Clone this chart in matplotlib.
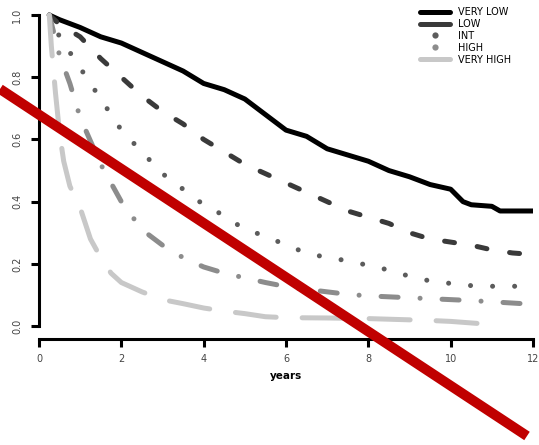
import matplotlib.pyplot as plt
from matplotlib.lines import Line2D

# survival estimates (years, proportion surviving)
t_vlow = [0.25, 0.5, 1, 1.5, 2, 2.5, 3, 3.5, 4, 4.5, 5, 5.5, 6, 6.5, 7, 7.5, 8, 8.5, 9, 9.5, 10, 10.3, 10.5, 11, 11.2, 12]
s_vlow = [1.0, 0.985, 0.96, 0.93, 0.91, 0.88, 0.85, 0.82, 0.78, 0.76, 0.73, 0.68, 0.63, 0.61, 0.57, 0.55, 0.53, 0.50, 0.48, 0.455, 0.44, 0.40, 0.39, 0.385, 0.37, 0.37]

t_low = [0.25, 0.5, 1, 1.5, 2, 2.5, 3, 3.5, 4, 4.5, 5, 5.5, 6, 6.5, 7, 7.5, 8, 8.5, 9, 9.5, 10, 10.5, 11, 11.5, 12]
s_low = [1.0, 0.97, 0.93, 0.86, 0.80, 0.74, 0.69, 0.65, 0.60, 0.56, 0.52, 0.49, 0.46, 0.43, 0.40, 0.37, 0.35, 0.33, 0.30, 0.28, 0.27, 0.26, 0.245, 0.235, 0.23]

t_int = [0.25, 0.5, 1, 1.5, 2, 2.5, 3, 3.5, 4, 4.5, 5, 5.5, 6, 6.5, 7, 7.5, 8, 8.5, 9, 9.5, 10, 10.5, 11, 11.6]
s_int = [1.0, 0.93, 0.83, 0.73, 0.63, 0.56, 0.49, 0.44, 0.39, 0.355, 0.31, 0.29, 0.26, 0.235, 0.22, 0.21, 0.195, 0.18, 0.16, 0.145, 0.137, 0.13, 0.128, 0.128]

t_high = [0.25, 0.5, 0.75, 1, 1.5, 2, 2.5, 3, 3.5, 4, 4.5, 5, 5.5, 6, 6.5, 7, 7.5, 8, 8.5, 9, 9.5, 10, 10.5, 11, 11.5, 12]
s_high = [1.0, 0.87, 0.78, 0.67, 0.52, 0.40, 0.31, 0.26, 0.22, 0.19, 0.17, 0.155, 0.14, 0.127, 0.118, 0.11, 0.102, 0.097, 0.094, 0.091, 0.088, 0.085, 0.082, 0.078, 0.074, 0.07]

t_vhigh = [0.25, 0.3, 0.4, 0.5, 0.6, 0.75, 1, 1.25, 1.5, 1.75, 2, 2.5, 3, 3.5, 4, 4.5, 5, 5.5, 6, 7, 8, 9, 9.5, 10, 10.5, 11, 11.2]
s_vhigh = [1.0, 0.9, 0.75, 0.62, 0.53, 0.45, 0.38, 0.28, 0.22, 0.17, 0.14, 0.11, 0.085, 0.072, 0.058, 0.048, 0.04, 0.03, 0.027, 0.026, 0.024, 0.02, 0.018, 0.015, 0.01, 0.005, 0.003]

labels = ["VERY LOW", "LOW", "INT", "HIGH", "VERY HIGH"]
x_ticks = [0, 2, 4, 6, 8, 10, 12]
y_ticks = [0.0, 0.2, 0.4, 0.6, 0.8, 1.0]

fig = plt.figure(figsize=(5.39, 4.45), dpi=100)
ax = fig.add_axes([39 / 539, 1 - 338.5 / 445, 494 / 539, 335.9 / 445])

lw = 3.6
ax.plot(t_vlow, s_vlow, color="black", lw=lw, solid_capstyle="round", solid_joinstyle="round")
ax.plot(t_low, s_low, color="#3a3a3a", lw=lw, dashes=(2.0, 4.6), dash_capstyle="round")
ax.plot(t_int, s_int, color="#5c5c5c", lw=lw, dashes=(0.01, 4.4), dash_capstyle="round")
ax.plot(t_high, s_high, color="#8c8c8c", lw=lw, dashes=(3.4, 4.4, 0.01, 4.4), dash_capstyle="round")
ax.plot(t_vhigh, s_vhigh, color="#c8c8c8", lw=lw, dashes=(8.2, 5.2), dash_capstyle="round")

ax.set_xlim(0, 12)
ax.set_ylim(-0.04, 1.04)
ax.set_xticks(x_ticks)
ax.set_xticklabels([str(v) for v in x_ticks])
ax.set_yticks(y_ticks)
ax.set_yticklabels(["%.1f" % v for v in y_ticks], rotation=90, va="center")
for s in ["top", "right"]:
    ax.spines[s].set_visible(False)
ax.spines["left"].set_bounds(0, 1)
ax.spines["left"].set_linewidth(2.2)
ax.spines["bottom"].set_linewidth(2.2)
ax.tick_params(width=2.2, length=6, labelsize=7, labelcolor="#444444")
ax.tick_params(axis="x", pad=5)
ax.tick_params(axis="y", pad=6)
ax.set_xlabel("years", fontsize=7.5, fontweight="bold", labelpad=5)

handles = [
    Line2D([], [], color="black", lw=lw),
    Line2D([], [], color="#3a3a3a", lw=lw),
    Line2D([], [], color="#5c5c5c", ls="none", marker="o", markersize=4.5, markeredgewidth=0),
    Line2D([], [], color="#8c8c8c", ls="none", marker="o", markersize=4.5, markeredgewidth=0),
    Line2D([], [], color="#c8c8c8", lw=lw),
]
for h in handles:
    h.set_solid_capstyle("round")
fig.legend(handles, labels, loc="upper left", bbox_to_anchor=(420 / 539, 1 - 7 / 445),
           frameon=False, fontsize=7, handlelength=3.1, handletextpad=0.8,
           labelspacing=0.2, borderpad=0, borderaxespad=0)

# red diagonal strike-through drawn over the whole figure
fig.add_artist(Line2D([0 / 539, 527 / 539], [1 - 89 / 445, 1 - 436 / 445],
                      transform=fig.transFigure, color="#c00000", lw=7.2,
                      solid_capstyle="butt"))

fig.savefig("out.png", dpi=100)
